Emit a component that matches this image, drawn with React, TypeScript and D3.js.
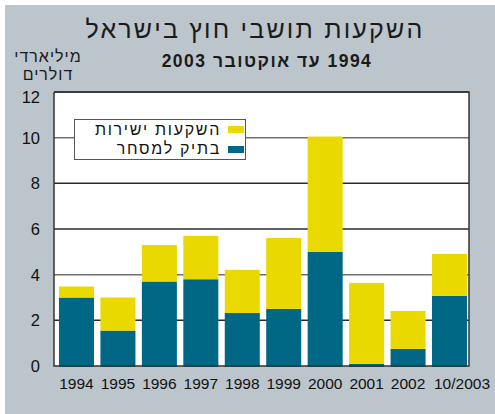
import { useEffect, useRef } from 'react';
import * as d3 from 'd3';

const years = ['1994', '1995', '1996', '1997', '1998', '1999', '2000', '2001', '2002', '10/2003'];
const portfolio = [3.0, 1.55, 3.7, 3.8, 2.32, 2.5, 5.0, 0.1, 0.75, 3.07];
const direct = [0.48, 1.45, 1.6, 1.9, 1.89, 3.11, 5.05, 3.54, 1.66, 1.84];
const yTicks = [0, 2, 4, 6, 8, 10, 12];
const seriesNames = ['השקעות ישירות', 'בתיק למסחר'];

const TEAL = '#006885';
const YELLOW = '#E9D900';
const BG = '#BBC5CB';
const FONT = 'Liberation Sans, Arial, sans-serif';

const App = () => {
  const svgRef = useRef(null);

  useEffect(() => {
    const svg = d3.select(svgRef.current);
    svg.selectAll('*').remove();

    const width = 495;
    const height = 414;
    const plot = { left: 54, right: 469, top: 92, bottom: 366 };

    // фон
    svg
      .append('rect')
      .attr('x', 5)
      .attr('y', 5)
      .attr('width', width - 5)
      .attr('height', height - 5)
      .attr('fill', BG);

    svg
      .append('rect')
      .attr('x', plot.left)
      .attr('y', plot.top)
      .attr('width', plot.right - plot.left)
      .attr('height', plot.bottom - plot.top)
      .attr('fill', '#fff');

    const x = d3
      .scaleBand()
      .domain(years)
      .range([plot.left, 472])
      .paddingInner(0.155)
      .paddingOuter(0.12);

    const y = d3.scaleLinear().domain([0, 12]).range([plot.bottom, plot.top]);

    // сетка
    svg
      .selectAll('line.grid')
      .data(yTicks.filter((t) => t > 0))
      .enter()
      .append('line')
      .attr('x1', plot.left)
      .attr('x2', plot.right)
      .attr('y1', (d) => y(d))
      .attr('y2', (d) => y(d))
      .attr('stroke', (d) => (d === 10 || d === 4 ? '#707070' : '#2a2a2a'))
      .attr('stroke-width', 1.5);

    // столбцы
    const stacked = years.map((yr, i) => ({ yr, p: portfolio[i], d: direct[i] }));

    svg
      .selectAll('rect.port')
      .data(stacked)
      .enter()
      .append('rect')
      .attr('x', (d) => x(d.yr)!)
      .attr('y', (d) => y(d.p))
      .attr('width', x.bandwidth())
      .attr('height', (d) => y(0) - y(d.p) + 1)
      .attr('fill', TEAL);

    svg
      .selectAll('rect.dir')
      .data(stacked)
      .enter()
      .append('rect')
      .attr('x', (d) => x(d.yr)!)
      .attr('y', (d) => y(d.p + d.d))
      .attr('width', x.bandwidth())
      .attr('height', (d) => y(d.p) - y(d.p + d.d))
      .attr('fill', YELLOW);

    // рамка
    svg
      .append('path')
      .attr(
        'd',
        `M${plot.left},${plot.top}V${plot.bottom}H${plot.right}V${plot.top}H${plot.left}`
      )
      .attr('fill', 'none')
      .attr('stroke', '#333')
      .attr('stroke-width', 1.5);

    // ось Y
    svg
      .selectAll('text.ytick')
      .data(yTicks)
      .enter()
      .append('text')
      .attr('x', 40)
      .attr('y', (d) => y(d) + (d === 12 ? 5 : 0))
      .attr('dy', '0.36em')
      .attr('text-anchor', 'end')
      .attr('font-family', FONT)
      .attr('font-size', 16.5)
      .attr('fill', '#111')
      .text((d) => d);

    // ось X (последняя подпись сдвинута вправо, как в оригинале)
    const last = years[years.length - 1];
    svg
      .selectAll('text.xtick')
      .data(years)
      .enter()
      .append('text')
      .attr('x', (d) => (d === last ? x(d)! + 2 : x(d)! + x.bandwidth() / 2))
      .attr('y', 389)
      .attr('text-anchor', (d) => (d === last ? 'start' : 'middle'))
      .attr('font-family', FONT)
      .attr('font-size', 15.5)
      .attr('fill', '#111')
      .text((d) => d);

    // легенда
    const lg = svg.append('g');
    lg.append('rect')
      .attr('x', 74.5)
      .attr('y', 119.5)
      .attr('width', 171)
      .attr('height', 40)
      .attr('fill', '#fff')
      .attr('stroke', '#555')
      .attr('stroke-width', 1);

    [YELLOW, TEAL].forEach((c, i) => {
      lg.append('rect')
        .attr('x', 228)
        .attr('y', 126 + i * 20)
        .attr('width', 16)
        .attr('height', 7)
        .attr('fill', c);
      lg.append('text')
        .attr('x', 221)
        .attr('y', 135 + i * 19)
        .attr('direction', 'rtl')
        .attr('text-anchor', 'start')
        .attr('font-family', FONT)
        .attr('font-size', 16)
        .attr('letter-spacing', 1.7)
        .attr('fill', '#111')
        .text(seriesNames[i]);
    });

    // заголовки
    svg
      .append('text')
      .attr('x', 255)
      .attr('y', 38)
      .attr('text-anchor', 'middle')
      .attr('direction', 'rtl')
      .attr('font-family', FONT)
      .attr('font-size', 25)
      .attr('letter-spacing', 2.2)
      .attr('fill', '#1a1a1a')
      .text('השקעות תושבי חוץ בישראל');

    svg
      .append('text')
      .attr('x', 267)
      .attr('y', 67)
      .attr('text-anchor', 'middle')
      .attr('direction', 'rtl')
      .attr('font-family', FONT)
      .attr('font-size', 17.5)
      .attr('font-weight', 'bold')
      .attr('letter-spacing', 1.5)
      .attr('fill', '#1a1a1a')
      .text('1994 עד אוקטובר 2003');

    ['מיליארדי', 'דולרים'].forEach((t, i) => {
      svg
        .append('text')
        .attr('x', 48)
        .attr('y', 62 + i * 18)
        .attr('text-anchor', 'middle')
        .attr('direction', 'rtl')
        .attr('font-family', FONT)
        .attr('font-size', 16)
        .attr('letter-spacing', 1)
        .attr('fill', '#1a1a1a')
        .text(t);
    });
  }, []);

  return (
    <svg
      ref={svgRef}
      width={495}
      height={414}
      style={{ position: 'absolute', left: 0, top: 0, display: 'block' }}
    ></svg>
  );
};

export default App;
